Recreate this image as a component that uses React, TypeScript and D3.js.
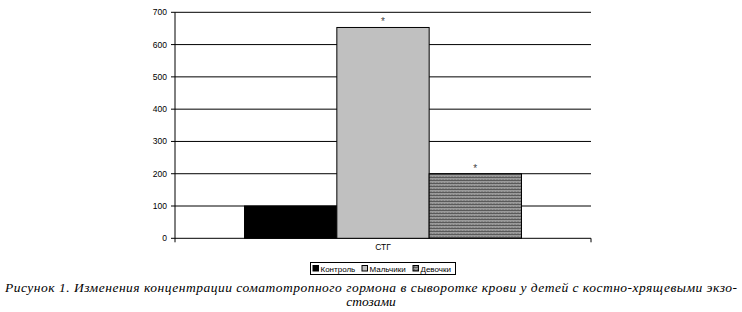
import React from "react";
import * as d3 from "d3";

const categories = ["СТГ"];
const seriesNames = ["Контроль", "Мальчики", "Девочки"];
const seriesValues = [100, 653, 200];
const significant = [false, true, true];
const yTicks = [0, 100, 200, 300, 400, 500, 600, 700];
const captionLine1 =
  "Рисунок 1. Изменения концентрации соматотропного гормона в сыворотке крови у детей с костно-хрящевыми экзо-";
const captionLine2 = "стозами";

const W = 742;
const H = 312;
const plot = { left: 175, right: 591, top: 12.3, bottom: 238.3 };

export default function App() {
  const y = d3.scaleLinear().domain([0, 700]).range([plot.bottom, plot.top]);
  const x0 = d3.scaleBand().domain(categories).range([plot.left, plot.right]).paddingInner(0).paddingOuter(0.251);
  const x1 = d3.scaleBand().domain(seriesNames).range([0, x0.bandwidth()]).padding(0);
  const fills = ["#000000", "#c0c0c0", "url(#girlsPattern)"];
  const font = "Arial, 'Liberation Sans', sans-serif";
  const serif = "Liberation Serif";

  return (
    <svg
      width={W}
      height={H}
      style={{ position: "absolute", left: 0, top: 0, background: "#fff" }}
    >
      <defs>
        <pattern id="girlsPattern" width="3" height="3" patternUnits="userSpaceOnUse">
          <rect width="3" height="3" fill="#9a9a9a" />
          <rect y="0" width="3" height="1" fill="#5a5a5a" />
          <rect x="0" y="2" width="1" height="1" fill="#707070" />
        </pattern>
      </defs>
      {yTicks.map((t) => (
        <line
          key={"g" + t}
          x1={plot.left - 4}
          x2={plot.right}
          y1={y(t)}
          y2={y(t)}
          stroke="#000"
          strokeWidth={1}
        />
      ))}
      <line x1={plot.left} x2={plot.left} y1={plot.top} y2={plot.bottom} stroke="#000" />
      <line x1={plot.left} x2={plot.left} y1={plot.bottom} y2={plot.bottom + 4} stroke="#000" />
      <line x1={plot.right} x2={plot.right} y1={plot.bottom} y2={plot.bottom + 4} stroke="#000" />
      {yTicks.map((t) => (
        <text
          key={"l" + t}
          x={plot.left - 8}
          y={y(t) + 3}
          textAnchor="end"
          fontFamily={font}
          fontSize={8.5}
          fill="#000"
        >
          {t}
        </text>
      ))}
      {categories.map((c) => (
        <g key={c} transform={`translate(${x0(c)},0)`}>
          {seriesNames.map((s, i) => (
            <g key={s}>
              <rect
                x={x1(s)}
                y={y(seriesValues[i])}
                width={x1.bandwidth()}
                height={y(0) - y(seriesValues[i])}
                fill={fills[i]}
                stroke="#000"
                strokeWidth={1}
              />
              {significant[i] && (
                <text
                  x={(x1(s) as number) + x1.bandwidth() / 2}
                  y={y(seriesValues[i]) - 2}
                  textAnchor="middle"
                  fontFamily={font}
                  fontSize={10}
                  fill="#444"
                >
                  *
                </text>
              )}
            </g>
          ))}
          <text
            x={x0.bandwidth() / 2}
            y={plot.bottom + 12}
            textAnchor="middle"
            fontFamily={font}
            fontSize={8.5}
          >
            {c}
          </text>
        </g>
      ))}
      <g>
        <rect x={310.5} y={262.5} width={145} height={12} fill="#fff" stroke="#000" />
        {seriesNames.map((s, i) => {
          const offs = [313, 362, 413];
          return (
            <g key={"lg" + s}>
              <rect
                x={offs[i]}
                y={265.5}
                width={5.5}
                height={5.5}
                fill={fills[i]}
                stroke="#000"
                strokeWidth={1}
              />
              <text x={offs[i] + 7.5} y={271.5} fontFamily={font} fontSize={8} fill="#000">
                {s}
              </text>
            </g>
          );
        })}
      </g>
      <text
        x={5}
        y={292}
        fontFamily={serif}
        fontStyle="italic"
        fontSize={13.5}
        textLength={732}
        lengthAdjust="spacing"
      >
        {captionLine1}
      </text>
      <text
        x={371}
        y={306}
        textAnchor="middle"
        fontFamily={serif}
        fontStyle="italic"
        fontSize={13.5}
      >
        {captionLine2}
      </text>
    </svg>
  );
}
